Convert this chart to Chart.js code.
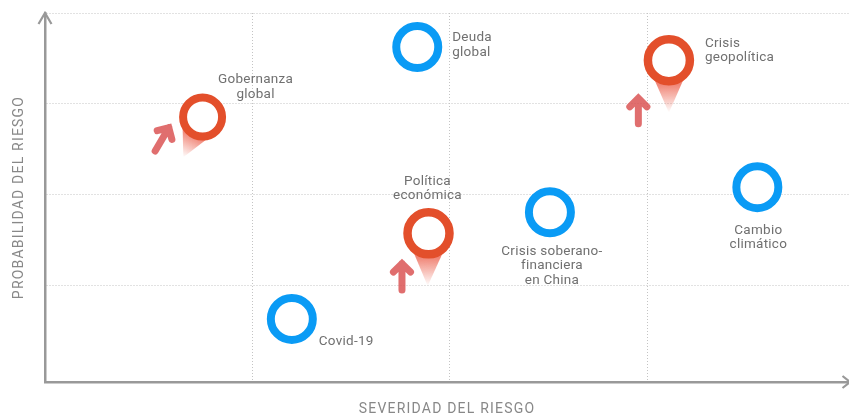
<!DOCTYPE html>
<html><head><meta charset="utf-8">
<style>html,body{margin:0;padding:0;background:#fff}canvas{display:block}</style>
<script src="https://cdn.jsdelivr.net/npm/chart.js@4"></script>
</head><body><canvas id="c" width="849" height="415"></canvas>
<script>
// Values (axis units 0-100)
const xTicks = [0, 25.75, 50.25, 74.9];
const yTicks = [0, 26.1, 50.8, 75.6, 100];
const blueNames = [["Deuda","global"],["Crisis soberano-","financiera","en China"],["Cambio","climático"],["Covid-19"]];
const blueX = [46.3, 62.8, 88.6, 30.7];
const blueY = [90.8, 46.0, 52.8, 17.1];
const redNames = [["Gobernanza","global"],["Política","económica"],["Crisis","geopolítica"]];
const redX = [19.6, 47.7, 77.6];
const redY = [71.8, 40.3, 87.2];
const coneTipX = [17.2, 47.6, 77.6];
const coneTipY = [60.9, 26.0, 73.0];
const arrowFromX = [13.7, 44.4, 73.8];
const arrowFromY = [62.6, 24.9, 70.0];
const arrowToX = [15.4, 44.4, 73.8];
const arrowToY = [68.9, 32.1, 76.9];

const BLUE = '#0a9bf5', RED = '#e34f2b', FONT = '13.5px Roboto, sans-serif', TXT = '#707070';
const redRadius = [19.5, 21, 21], redWidth = [8, 8.5, 8.5];
// label placement relative to its point, in pixels
const blueLabel = [{dx:35,dy:-9,a:'left'},{dx:2,dy:39,a:'center'},{dx:1,dy:43,a:'center'},{dx:27,dy:23,a:'left'}];
const redLabel = [{dx:53,dy:-37,a:'center'},{dx:-1,dy:-52,a:'center'},{dx:36,dy:-17,a:'left'}];

const overlay = {
  id:'overlay',
  beforeDraw(ch){ ch.ctx.letterSpacing='1.2px'; },
  beforeDatasetsDraw(ch){
    const {ctx,scales:{x,y},chartArea:a} = ch;
    ctx.letterSpacing='0px';
    ctx.save();
    // axis arrow heads
    ctx.strokeStyle='#999'; ctx.lineWidth=2.2; ctx.lineCap='butt';
    ctx.beginPath();
    ctx.moveTo(a.left-6.5,a.top+11); ctx.lineTo(a.left,a.top); ctx.lineTo(a.left+6.5,a.top+11);
    ctx.moveTo(a.right-6.5,a.bottom-6); ctx.lineTo(a.right+1,a.bottom); ctx.lineTo(a.right-6.5,a.bottom+6);
    ctx.stroke();
    // tapered tails below red rings
    redX.forEach((v,i)=>{
      const cx=x.getPixelForValue(v), cy=y.getPixelForValue(redY[i]);
      const tx=x.getPixelForValue(coneTipX[i]), ty=y.getPixelForValue(coneTipY[i]);
      const ang=Math.atan2(ty-cy,tx-cx), r=redRadius[i]+2;
      const g=ctx.createLinearGradient(cx,cy,tx,ty);
      g.addColorStop(0.45,'rgba(235,90,70,0.75)'); g.addColorStop(1,'rgba(235,90,70,0)');
      ctx.fillStyle=g; ctx.beginPath();
      ctx.moveTo(tx,ty);
      ctx.lineTo(cx+r*Math.cos(ang+0.75),cy+r*Math.sin(ang+0.75));
      ctx.lineTo(cx+r*Math.cos(ang-0.75),cy+r*Math.sin(ang-0.75));
      ctx.closePath(); ctx.fill();
    });
    // movement arrows
    ctx.strokeStyle='rgba(218,85,85,0.85)'; ctx.lineWidth=7; ctx.lineCap='round'; ctx.lineJoin='miter';
    arrowFromX.forEach((v,i)=>{
      const fx=x.getPixelForValue(v), fy=y.getPixelForValue(arrowFromY[i]);
      const tx=x.getPixelForValue(arrowToX[i]), ty=y.getPixelForValue(arrowToY[i]);
      const ang=Math.atan2(ty-fy,tx-fx), h=12;
      ctx.beginPath();
      ctx.moveTo(fx,fy); ctx.lineTo(tx,ty);
      ctx.moveTo(tx+h*Math.cos(ang+2.35),ty+h*Math.sin(ang+2.35));
      ctx.lineTo(tx,ty);
      ctx.lineTo(tx+h*Math.cos(ang-2.35),ty+h*Math.sin(ang-2.35));
      ctx.stroke();
    });
    ctx.restore();
  },
  afterDatasetsDraw(ch){
    const {ctx,scales:{x,y}} = ch;
    ctx.save();
    ctx.font=FONT; ctx.fillStyle=TXT; ctx.textBaseline='middle'; ctx.letterSpacing='0.25px';
    const put=(names,xs,ys,pl)=>names.forEach((lines,i)=>{
      const p=pl[i]; ctx.textAlign=p.a;
      lines.forEach((t,j)=>ctx.fillText(t,x.getPixelForValue(xs[i])+p.dx,y.getPixelForValue(ys[i])+p.dy+j*14.5));
    });
    put(blueNames,blueX,blueY,blueLabel);
    put(redNames,redX,redY,redLabel);
    ctx.restore();
    ctx.letterSpacing='1.2px';
  }
};

const axisCommon = {
  type:'linear', min:0, max:100,
  ticks:{display:false},
  grid:{color:'#c4c4c4',lineWidth:1,drawTicks:false},
  border:{display:true,color:'#999',width:2.5,dash:[1,2]}
};
new Chart(document.getElementById('c'),{
  type:'scatter',
  data:{datasets:[
    {label:'Riesgos',data:blueX.map((v,i)=>({x:v,y:blueY[i]})),pointRadius:21,pointBorderWidth:8,pointBorderColor:BLUE,pointBackgroundColor:'#fff'},
    {label:'Riesgos en alza',data:redX.map((v,i)=>({x:v,y:redY[i]})),pointRadius:redRadius,pointBorderWidth:redWidth,pointBorderColor:RED,pointBackgroundColor:'#fff'}
  ]},
  options:{
    responsive:false,animation:false,events:[],clip:false,
    layout:{autoPadding:false,padding:{top:13,right:0,left:0,bottom:0}},
    plugins:{legend:{display:false},tooltip:{enabled:false}},
    scales:{
      x:{...axisCommon,
        afterBuildTicks(s){s.ticks=xTicks.map(v=>({value:v}));},
        afterFit(s){s.height=33;},
        title:{display:true,text:'SEVERIDAD DEL RIESGO',color:'#888',font:{family:'Roboto',size:14},padding:{top:0,bottom:-3}}},
      y:{...axisCommon,
        afterBuildTicks(s){s.ticks=yTicks.map(v=>({value:v}));},
        afterFit(s){s.width=45;},
        title:{display:true,text:'PROBABILIDAD DEL RIESGO',color:'#888',font:{family:'Roboto',size:14},padding:{top:11,bottom:0}}}
    }
  },
  plugins:[overlay]
});
</script></body></html>
